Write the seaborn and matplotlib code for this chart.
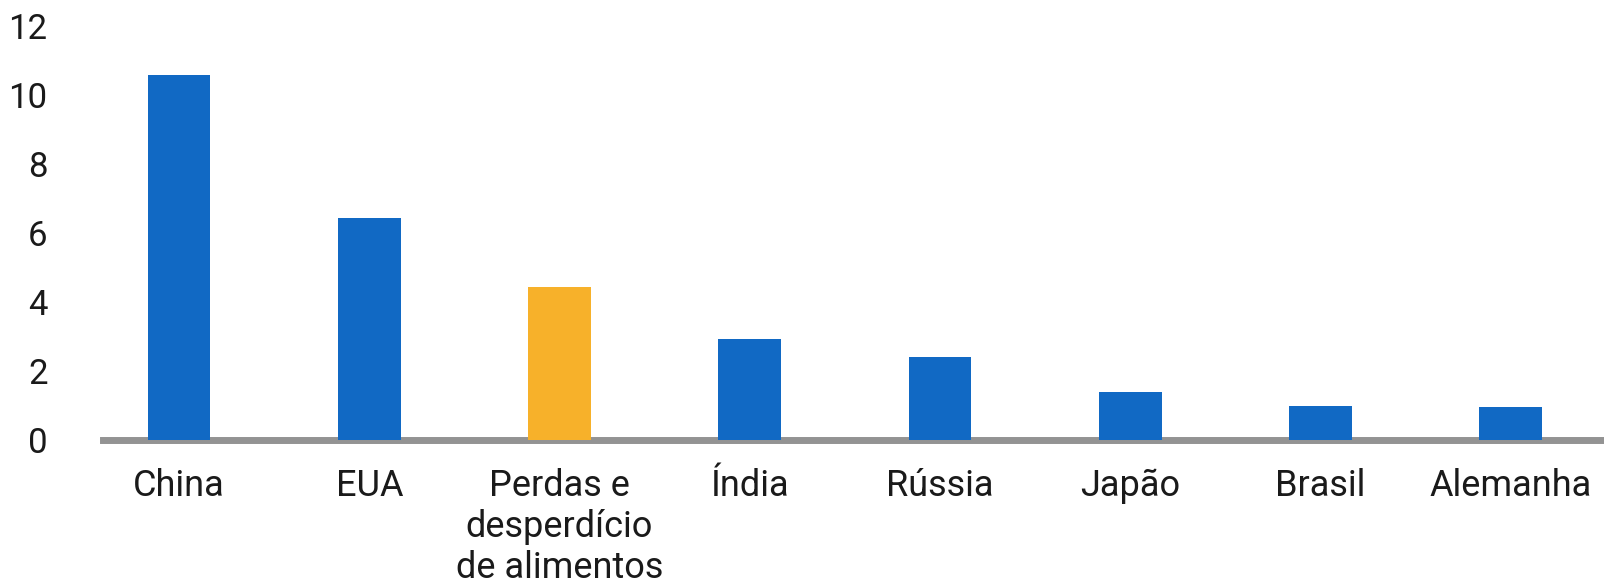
import matplotlib
matplotlib.use("Agg")
import matplotlib.pyplot as plt
import seaborn as sns
import pandas as pd

categorias = ["China", "EUA", "Perdas e\ndesperdício\nde alimentos", "Índia",
              "Rússia", "Japão", "Brasil", "Alemanha"]
valores = [10.58, 6.43, 4.44, 2.93, 2.4, 1.39, 0.98, 0.95]
cores = ["#1169C4", "#1169C4", "#F7B12A", "#1169C4",
         "#1169C4", "#1169C4", "#1169C4", "#1169C4"]
yticks = [0, 2, 4, 6, 8, 10, 12]

df = pd.DataFrame({"pais": categorias, "valor": valores})

sns.set_style("white")
plt.rcParams["font.family"] = ["Roboto", "DejaVu Sans"]

fig = plt.figure(figsize=(16.04, 5.88), dpi=100)
ax = fig.add_axes([0.0642, 0.2517, 0.9358, 0.704])

sns.barplot(data=df, x="pais", y="valor", hue="pais", palette=cores,
            width=0.33, saturation=1, legend=False, ax=ax, zorder=3,
            linewidth=0)

ax.set_xlim(-0.40, 7.49)
ax.set_ylim(0, 12)
ax.set_yticks(yticks)
ax.set_yticklabels([str(t) for t in yticks])
ax.set_xlabel("")
ax.set_ylabel("")

for s in ["top", "right", "left"]:
    ax.spines[s].set_visible(False)
ax.spines["bottom"].set_color("#939393")
ax.spines["bottom"].set_linewidth(5)
ax.spines["bottom"].set_zorder(2)

ax.tick_params(axis="both", length=0)
ax.tick_params(axis="y", labelsize=25, pad=40, colors="#1a1a1a")
ax.tick_params(axis="x", labelsize=26, pad=20, colors="#1a1a1a")

for lab in ax.get_xticklabels():
    lab.set_linespacing(1.18)

fig.savefig("out.png", dpi=100)
